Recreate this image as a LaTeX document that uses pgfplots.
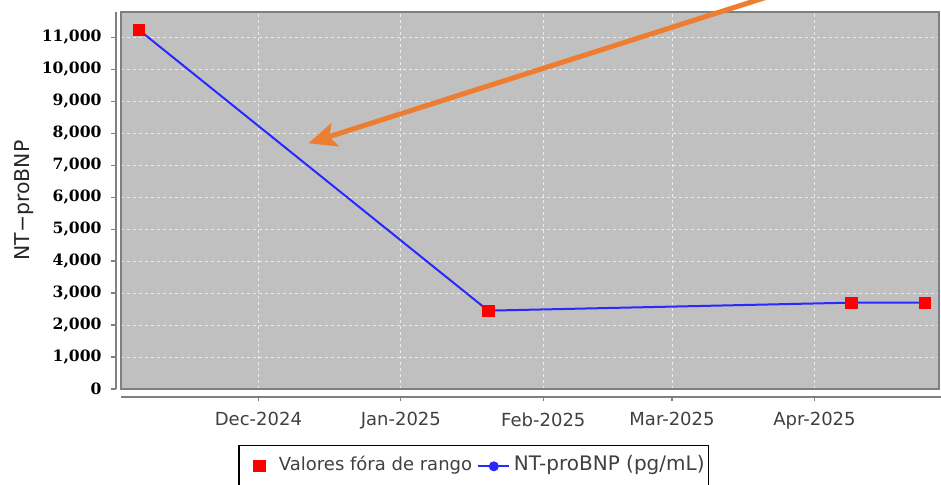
\documentclass[border=0pt]{standalone}
\usepackage{pgfplots}
\pgfplotsset{compat=1.18}
\usepackage{pgfplotstable}
\usetikzlibrary{arrows.meta}
\usepackage{fontspec}
\setmainfont{DejaVu Sans}
\newfontfamily\tickserif{DejaVu Serif}
\definecolor{plotbg}{RGB}{192,192,192}
\definecolor{axgray}{RGB}{128,128,128}
\definecolor{ticktext}{RGB}{64,64,64}
\definecolor{arroworange}{RGB}{237,125,49}
\definecolor{lineblue}{RGB}{40,40,255}

% day 0 = 1 Dec 2024
\pgfplotstableread{
day value
-26 11230
50 2450
129 2700
145 2700
}\ntprobnp

\begin{document}
\begin{tikzpicture}[x=1pt,y=1pt]
\begin{axis}[
  at={(60.5pt,48pt)}, anchor=south west,
  scale only axis, width=409pt, height=188.5pt,
  xmin=-29.9, xmax=148.1, ymin=0, ymax=11790,
  axis background/.style={fill=plotbg},
  axis line style={draw=axgray, line width=0.7pt},
  xtick={0,31,62,90,121},
  xticklabels={Dec-2024,Jan-2025,Feb-2025,Mar-2025,Apr-2025},
  ytick={0,1000,...,11000},
  scaled y ticks=false,
  xtick pos=bottom, ytick pos=left,
  tick align=outside, major tick length=2.2pt,
  xtick style={draw=axgray, line width=0.6pt, yshift=-4pt},
  ytick style={draw=axgray, line width=0.6pt, xshift=-2.6pt},
  grid=major,
  major grid style={draw=white!92!black, line width=0.5pt, dash pattern=on 1.5pt off 1.5pt},
  /pgf/number format/assume math mode=true,
  /pgf/number format/1000 sep={,},
  xticklabel style={font=\fontsize{9}{11}\selectfont, text=ticktext, yshift=-6pt},
  yticklabel style={font=\tickserif\bfseries\fontsize{7.8}{9}\selectfont, text=black, xshift=-4pt},
  ylabel={NT−proBNP},
  ylabel style={at={(axis description cs:-0.1186,0.5)}, anchor=center, font=\fontsize{10.2}{12}\selectfont, text=black!85},
  legend columns=2,
  legend style={at={(axis description cs:0.1434,-0.1485)}, anchor=north west, draw=black, line width=0.75pt, fill=white, inner xsep=0pt, inner ysep=0pt, font=\fontsize{9}{11}\selectfont, text=ticktext, nodes={inner xsep=2pt, inner ysep=6pt, text height=6.6pt, text depth=2pt}, /tikz/every even column/.append style={column sep=0pt}},
  clip=false,
]
\addlegendimage{legend image code/.code={\path (0pt,0pt) (17.2pt,0pt); \fill[red] (7.2pt,-2.65pt) rectangle (12.5pt,2.65pt);}}
\addlegendentry{Valores fóra de rango}
\addlegendimage{legend image code/.code={\path (0pt,0pt) (16pt,0pt); \draw[lineblue, line width=1pt] (0.5pt,0pt) -- (16pt,0pt); \fill[lineblue] (8.5pt,0pt) circle (2.1pt);}}
\addlegendentry{\fontsize{10}{11}\selectfont NT-proBNP (pg/mL)\hspace{1pt}}

\addplot[lineblue, line width=1pt, mark=*, mark size=2pt, forget plot] table[x=day,y=value]{\ntprobnp};
\addplot[only marks, mark=square*, mark size=2.8pt, mark options={draw=red, fill=red, line width=0.2pt}, forget plot] table[x=day,y=value]{\ntprobnp};

\coordinate (LL) at (rel axis cs:0,0);
\coordinate (LR) at (rel axis cs:1,0);
\coordinate (UL) at (rel axis cs:0,1);
\end{axis}
\draw[axgray, line width=0.7pt] ([yshift=-4pt]LL) -- ([yshift=-4pt,xshift=2pt]LR);
\draw[axgray, line width=0.7pt] ([xshift=-2.6pt]LL) -- ([xshift=-2.6pt]UL);
\draw[arroworange, line width=2.5pt, -{Stealth[length=14pt,width=12pt,inset=3pt]}] (445.6,263.8) -- (154.15,170.85);
\pgfresetboundingbox
\path[use as bounding box] (0,0) rectangle (470.5,242.5);
\end{tikzpicture}
\end{document}
